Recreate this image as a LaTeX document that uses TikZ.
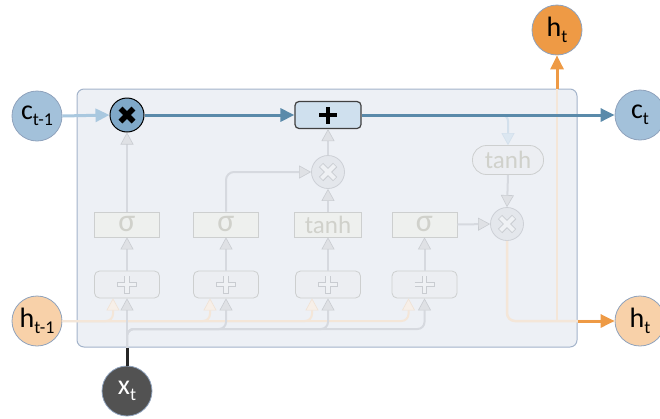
\documentclass[tikz,border=0pt]{standalone}
\usepackage{fontspec}
\setmainfont{Carlito}
\usetikzlibrary{arrows.meta}

\definecolor{cellbg}{HTML}{EDF0F5}
\definecolor{cellrim}{HTML}{A3B3CA}
\definecolor{cblue}{HTML}{A3C1DA}
\definecolor{cmul}{HTML}{7FA8C8}
\definecolor{caddfill}{HTML}{CFE0EE}
\definecolor{cdeep}{HTML}{5A8AAA}
\definecolor{clight}{HTML}{A9C8DF}
\definecolor{horange}{HTML}{EE9A45}
\definecolor{hpale}{HTML}{F8D1A9}
\definecolor{xdark}{HTML}{525252}
\definecolor{rimgrey}{HTML}{8FA2BC}
\definecolor{fline}{HTML}{D6D9DF}
\definecolor{fhead}{HTML}{DFE1E5}
\definecolor{fheadrim}{HTML}{C9CCD1}
\definecolor{fbox}{HTML}{EEF0EE}
\definecolor{fsum}{HTML}{ECEEF2}
\definecolor{fboxrim}{HTML}{CDCFCF}
\definecolor{ftext}{HTML}{D0D1CB}
\definecolor{fmulfill}{HTML}{E4E7EC}
\definecolor{fmulrim}{HTML}{CDD0D6}
\definecolor{forange}{HTML}{F4E6D8}
\definecolor{foranghead}{HTML}{F7EFE8}
\definecolor{forangerim}{HTML}{F0E2D4}
\definecolor{fblue}{HTML}{D3E0EC}
\definecolor{fbluehead}{HTML}{DCE7F1}

\newcommand\lsub[1]{\raisebox{-6pt}{\fontsize{18}{18}\selectfont #1}}

\tikzset{
  io/.style={circle, minimum size=50pt, inner sep=0pt, draw=rimgrey, line width=0.8pt,
             font=\fontsize{28}{28}\selectfont},
  gatebox/.style={rectangle, minimum width=65pt, minimum height=25pt, inner sep=0pt,
             fill=fbox, draw=fboxrim, line width=0.8pt, text=ftext,
             font=\fontsize{25}{25}\selectfont},
  sigmatext/.style={font=\fontsize{32}{32}\selectfont},
  sumbox/.style={rectangle, rounded corners=5pt, minimum width=65pt, minimum height=27pt,
             inner sep=0pt, fill=fsum, draw=fboxrim, line width=0.8pt},
  fmul/.style={circle, minimum size=33pt, inner sep=0pt, fill=fmulfill, draw=fmulrim,
             line width=0.8pt},
  farrow/.style={draw=fline, line width=2pt,
             -{Triangle[length=12pt,width=13pt,fill=fhead,color=fheadrim,line width=0.6pt]}},
  fharrow/.style={draw=forange, line width=2pt,
             -{Triangle[length=12pt,width=13pt,fill=foranghead,color=forangerim,line width=0.6pt]}},
  fbarrow/.style={draw=fblue, line width=2pt,
             -{Triangle[length=12pt,width=13pt,fill=fbluehead,color=fblue,line width=0.6pt]}},
  fhline/.style={draw=forange, line width=2.5pt},
  cellflow/.style={line width=3pt, -{Triangle[length=14pt,width=13pt]}},
  hflow/.style={line width=3pt, draw=horange, -{Triangle[length=14pt,width=13pt,fill=horange]}},
  fxmark/.style={draw=fheadrim},
  fxfill/.style={draw=fmulfill!60!white},
}

\begin{document}
\begin{tikzpicture}[x=1pt,y=-1pt]
\useasboundingbox (0,0) rectangle (660,418);

% LSTM cell frame
\node[draw=cellrim, fill=cellbg, rounded corners=7pt, minimum width=500pt,
      minimum height=258pt, inner sep=0pt, line width=1pt] (cell) at (327,218) {};

% inputs and outputs
\node[io, fill=cblue] (cprev) at (37,116) {c\lsub{t-1}};
\node[io, fill=cblue] (cnext) at (640,115) {c\lsub{t}};
\node[io, fill=horange] (htop) at (557,30) {h\lsub{t}};
\node[io, fill=hpale] (hnext) at (640,321) {h\lsub{t}};
\node[io, fill=hpale] (hprev) at (37,321) {h\lsub{t-1}};
\node[io, fill=xdark, text=white] (xt) at (127,391) {x\lsub{t}};

% cell-state operators
\node[circle, minimum size=34pt, inner sep=0pt, fill=cmul, draw=black, line width=1pt]
  (m1) at (127,115) {};
\node[rectangle, rounded corners=4pt, minimum width=66pt, minimum height=27pt, inner sep=0pt,
      fill=caddfill, draw=black!75, line width=1.2pt] (add) at (328,115) {};

% gates
\node[gatebox, sigmatext] (g1) at (127,224.5) {σ};
\node[gatebox, sigmatext] (g2) at (226,224.5) {σ};
\node[gatebox, minimum width=67pt] (g3) at (328,224.5) {tanh};
\node[gatebox, sigmatext] (g4) at (424.5,224.5) {σ};

% weighted sums
\node[sumbox] (s1) at (127,284.5) {};
\node[sumbox] (s2) at (226,284.5) {};
\node[sumbox] (s3) at (328,284.5) {};
\node[sumbox] (s4) at (424.5,284.5) {};

% faint multipliers and output tanh
\node[fmul] (m2) at (328,172) {};
\node[fmul] (m3) at (507,224) {};
\node[rectangle, rounded corners=14pt, minimum width=71pt, minimum height=29pt, inner sep=0pt,
      fill=fsum, draw=fboxrim, line width=0.8pt, text=ftext,
      font=\fontsize{25}{25}\selectfont] (tp) at (508,160) {tanh};

% faint plus signs and crosses
\foreach \s in {s1,s2,s3,s4} {
  \draw[fxmark, line width=5.5pt] ([xshift=-10pt]\s.center) -- ([xshift=10pt]\s.center)
        ([yshift=-9pt]\s.center) -- ([yshift=9pt]\s.center);
  \draw[fxfill, line width=3.5pt] ([xshift=-9.3pt]\s.center) -- ([xshift=9.3pt]\s.center)
        ([yshift=-8.3pt]\s.center) -- ([yshift=8.3pt]\s.center);
}
\foreach \m in {m2,m3} {
  \draw[fxmark, line width=6pt] ([shift={(-7,-7)}]\m.center) -- ([shift={(7,7)}]\m.center)
        ([shift={(-7,7)}]\m.center) -- ([shift={(7,-7)}]\m.center);
  \draw[fxfill, line width=4pt] ([shift={(-6.5,-6.5)}]\m.center) -- ([shift={(6.5,6.5)}]\m.center)
        ([shift={(-6.5,6.5)}]\m.center) -- ([shift={(6.5,-6.5)}]\m.center);
}

% bus points
\coordinate (xbus) at (127,329);
\coordinate (hj) at (htop.south |- hnext.west);
\coordinate (br) at (499,115);

% faint internal flow
\draw[farrow] (s1.north) -- (g1.south);
\draw[farrow] (s2.north) -- (g2.south);
\draw[farrow] (s3.north) -- (g3.south);
\draw[farrow] (s4.north) -- (g4.south);
\draw[farrow] (g1.north) -- (m1.south);
\draw[farrow, rounded corners=8pt] (g2.north) |- (m2.west);
\draw[farrow] (g3.north) -- (m2.south);
\draw[farrow] (m2.north) -- (add.south);
\draw[farrow] (g4.east) -- (m3.west);
\draw[farrow] (tp.south) -- (m3.north);
\draw[fbarrow, rounded corners=6pt] (br) -| (tp.north);

% previous hidden state into every sum
\draw[fharrow, rounded corners=7pt] (hprev.east) -| ([xshift=-14pt]s1.south);
\draw[fharrow, rounded corners=7pt] (hprev.east) -| ([xshift=-16pt]s2.south);
\draw[fharrow, rounded corners=7pt] (hprev.east) -| ([xshift=-16pt]s3.south);
\draw[fharrow, rounded corners=7pt] (hprev.east) -| ([xshift=-16pt]s4.south);

% input into every sum
\draw[farrow] (xt.north) -- (s1.south);
\draw[farrow, rounded corners=7pt] (xt.north) -- (xbus) -| (s2.south);
\draw[farrow, rounded corners=7pt] (xt.north) -- (xbus) -| (s3.south);
\draw[farrow, rounded corners=7pt] (xt.north) -- (xbus) -| (s4.south);
\draw[line width=3pt, black!85] (xt.north) -- (xt.north |- cell.south);

% hidden state output
\draw[fhline, rounded corners=8pt] (m3.south) |- (hnext.west);
\draw[fhline] (hj) -- (htop.south);
\draw[hflow] (cell.east |- hnext.west) -- (hnext.west);
\draw[hflow] (hj |- cell.north) -- (htop.south);

% cell state line
\draw[cellflow, draw=clight, -{Triangle[length=14pt,width=13pt,fill=clight]}] (cprev.east) -- (m1.west);
\draw[cellflow, draw=cdeep, -{Triangle[length=14pt,width=13pt,fill=cdeep]}] (m1.east) -- (add.west);
\draw[cellflow, draw=cdeep, -{Triangle[length=14pt,width=13pt,fill=cdeep]}] (add.east) -- (cnext.west);

% bold operator marks
\draw[line width=5.5pt, black] ([shift={(-6.5,-6.5)}]m1.center) -- ([shift={(6.5,6.5)}]m1.center)
      ([shift={(-6.5,6.5)}]m1.center) -- ([shift={(6.5,-6.5)}]m1.center);
\draw[line width=4pt, black] ([xshift=-9pt]add.center) -- ([xshift=9pt]add.center)
      ([yshift=-8.5pt]add.center) -- ([yshift=8.5pt]add.center);
\end{tikzpicture}
\end{document}
